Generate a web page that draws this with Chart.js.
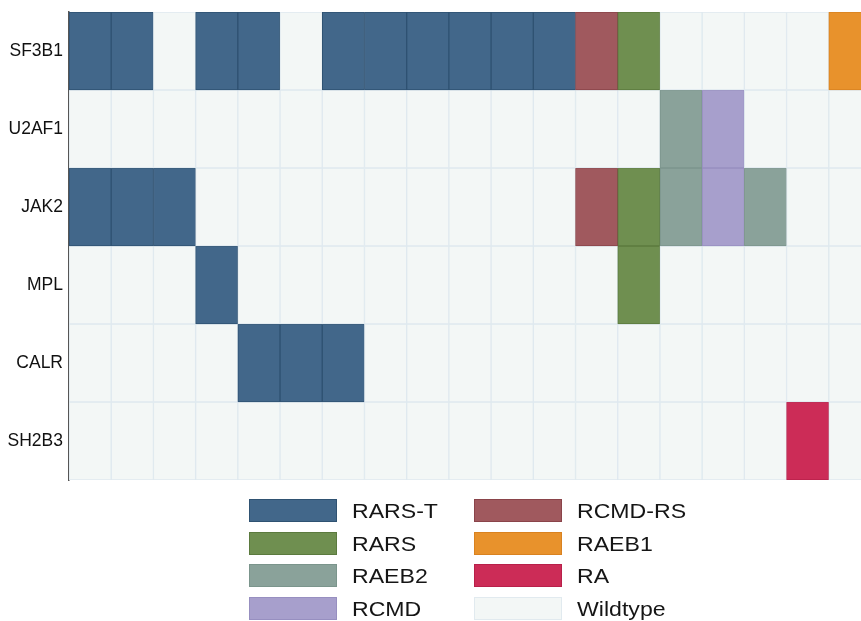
<!DOCTYPE html>
<html>
<head>
<meta charset="utf-8">
<script src="https://cdn.jsdelivr.net/npm/chart.js@4.4.1/dist/chart.umd.min.js"></script>
<style>
  html, body { margin: 0; padding: 0; background: #fff; overflow: hidden; width: 861px; height: 621px; }
  #wrap { position: absolute; left: 0; top: 0; width: 880px; height: 490px; }
  #legend { position: absolute; left: 0; top: 0; width: 861px; height: 621px; pointer-events: none; }
  .lbox { position: absolute; width: 86px; height: 21px; border: 1px solid; }
  .ltxt { position: absolute; font-family: "Liberation Sans", Arial, sans-serif; font-size: 21px; line-height: 23px; color: #151515; white-space: nowrap; transform: scaleX(1.1); transform-origin: left top; }
</style>
</head>
<body>
<div id="wrap"><canvas id="c"></canvas></div>
<div id="legend"></div>
<script>
// ---- data ----
const genes = ["SF3B1", "U2AF1", "JAK2", "MPL", "CALR", "SH2B3"];
const samples = ["P1","P2","P3","P4","P5","P6","P7","P8","P9","P10","P11","P12","P13","P14","P15","P16","P17","P18","P19"];
// subtype per sample for each gene ("WT" = wildtype)
const SF3B1 = ["RARS-T","RARS-T","WT","RARS-T","RARS-T","WT","RARS-T","RARS-T","RARS-T","RARS-T","RARS-T","RARS-T","RCMD-RS","RARS","WT","WT","WT","WT","RAEB1"];
const U2AF1 = ["WT","WT","WT","WT","WT","WT","WT","WT","WT","WT","WT","WT","WT","WT","RAEB2","RCMD","WT","WT","WT"];
const JAK2  = ["RARS-T","RARS-T","RARS-T","WT","WT","WT","WT","WT","WT","WT","WT","WT","RCMD-RS","RARS","RAEB2","RCMD","RAEB2","WT","WT"];
const MPL   = ["WT","WT","WT","RARS-T","WT","WT","WT","WT","WT","WT","WT","WT","WT","RARS","WT","WT","WT","WT","WT"];
const CALR  = ["WT","WT","WT","WT","RARS-T","RARS-T","RARS-T","WT","WT","WT","WT","WT","WT","WT","WT","WT","WT","WT","WT"];
const SH2B3 = ["WT","WT","WT","WT","WT","WT","WT","WT","WT","WT","WT","WT","WT","WT","WT","WT","WT","RA","WT"];
const geneStatus = [SF3B1, U2AF1, JAK2, MPL, CALR, SH2B3];

// legend categories (two columns)
const legendCol1 = ["RARS-T", "RARS", "RAEB2", "RCMD"];
const legendCol2 = ["RCMD-RS", "RAEB1", "RA", "Wildtype"];

// ---- styles ----
const fillColors = {
  "RARS-T": "#42678a", "RARS": "#6f8f50", "RAEB2": "#8aa29a", "RCMD": "#a79fcc",
  "RCMD-RS": "#a0595e", "RAEB1": "#e8922c", "RA": "#cc2c57", "WT": "#f3f7f6", "Wildtype": "#f3f7f6"
};
const borderColors = {
  "RARS-T": "#2f5272", "RARS": "#5b7a3e", "RAEB2": "#7b958c", "RCMD": "#978fc0",
  "RCMD-RS": "#8a444a", "RAEB1": "#d98220", "RA": "#b8204a", "WT": "#dfe9ef", "Wildtype": "#e1eaef"
};

const datasets = genes.map((g, i) => ({
  label: g,
  data: samples.map(() => 1),
  backgroundColor: geneStatus[i].map(s => fillColors[s]),
  borderColor: geneStatus[i].map(s => borderColors[s]),
  borderWidth: 1,
  borderSkipped: false,
  barPercentage: 1,
  categoryPercentage: 1
}));

new Chart(document.getElementById("c"), {
  type: "bar",
  data: { labels: samples, datasets },
  options: {
    responsive: true,
    maintainAspectRatio: false,
    animation: false,
    layout: { padding: { top: 12, bottom: 10, right: 9, left: 0 } },
    plugins: { legend: { display: false }, tooltip: { enabled: false } },
    scales: {
      x: { stacked: true, display: false },
      y: {
        stacked: true,
        reverse: true,
        min: 0,
        max: genes.length,
        grid: { display: false },
        border: { display: true, color: "#555", width: 1.5 },
        afterFit: (scale) => { scale.width = 69; scale.paddingTop = 0; scale.paddingBottom = 0; },
        afterBuildTicks: (scale) => { scale.ticks = genes.map((g, i) => ({ value: i + 0.5 })); },
        ticks: {
          padding: -2,
          color: "#111",
          font: { family: "'Liberation Sans', Arial, sans-serif", size: 17.5 },
          callback: (v) => genes[Math.floor(v)]
        }
      }
    }
  }
});

// ---- legend ----
const leg = document.getElementById("legend");
function addItem(name, boxX, txtX, y) {
  const b = document.createElement("div");
  b.className = "lbox";
  b.style.left = boxX + "px"; b.style.top = y + "px";
  b.style.background = fillColors[name]; b.style.borderColor = borderColors[name];
  leg.appendChild(b);
  const t = document.createElement("div");
  t.className = "ltxt";
  t.style.left = txtX + "px"; t.style.top = y + "px";
  t.textContent = name;
  leg.appendChild(t);
}
legendCol1.forEach((n, i) => addItem(n, 249, 352, 499 + i * 32.7));
legendCol2.forEach((n, i) => addItem(n, 474, 577, 499 + i * 32.7));
</script>
</body>
</html>
